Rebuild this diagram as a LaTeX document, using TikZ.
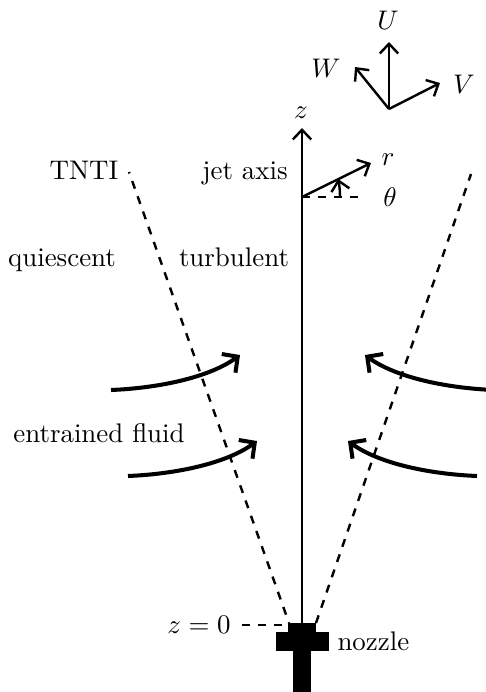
\documentclass[tikz,border=0pt]{standalone}
\usetikzlibrary{arrows.meta}
\begin{document}
\begin{tikzpicture}[x=0.3717pt,y=-0.3717pt,
  >={Straight Barb[length=3.6pt,width=6.8pt]},
  axisline/.style={line width=0.9pt},
  tnti/.style={line width=0.9pt,dash pattern=on 3pt off 3pt},
  flow/.style={line width=1.5pt,-{Straight Barb[length=4.2pt,width=8.6pt]}},
  lbl/.style={inner sep=0pt, anchor=base},
  ]
\useasboundingbox (0,0) rectangle (486,692);
% nozzle
\fill (288,623) rectangle (316,633);
\fill (276,632) rectangle (329,651);
\fill (293,650) rectangle (311,692);
% coordinates
\coordinate (nz) at (302,623);
\coordinate (ztip) at (302,128);
\coordinate (O) at (302,197);
\coordinate (rtip) at (371,163);
\coordinate (thend) at (366,197);
\coordinate (tl) at (129,172);
\coordinate (bl) at (289,623);
\coordinate (tr) at (471,174);
\coordinate (br) at (316,623);
\coordinate (C) at (389,109);
\coordinate (Ut) at (389,42);
\coordinate (Vt) at (440,83);
\coordinate (Wt) at (355,67);
% jet axis
\draw[axisline,->] (nz) -- (ztip);
\node[lbl] (zl) at (301,118) {$z$};
% TNTI
\draw[tnti,dash phase=2.7pt] (bl) -- (tl);
\draw[tnti] (br) -- (tr);
% r, theta
\draw[axisline,->] (O) -- (rtip);
\draw[axisline,dashed] (O) -- (thend);
\node[anchor=center] (rl) at (388,160) {$r$};
\node[anchor=center] (thl) at (390,197) {$\theta$};
\coordinate (a0) at (340,197);
\coordinate (a1) at (338,179);
\draw[axisline,->] (a0) .. controls (340,191) and (339.5,186) .. (a1);
% U V W
\draw[axisline,->] (C) -- (Ut);
\draw[axisline,->] (C) -- (Vt);
\draw[axisline,->] (C) -- (Wt);
\node (Ul) at (388,20) {$U$};
\node (Vl) at (464,84) {$V$};
\node (Wl) at (326,68) {$W$};
% labels
\node[lbl] (tntil) at (84,179) {TNTI};
\node[lbl] (jal) at (245,179) {jet axis};
\node[lbl] (ql) at (62,266) {quiescent};
\node[lbl] (tbl) at (234,266) {turbulent};
\node[lbl] (efl) at (99,442) {entrained fluid};
\node[lbl,anchor=base west] (nzl) at (337,650) {nozzle};
\node[lbl] (z0) at (199,633) {$z=0$};
\coordinate (z0a) at (242,625);
\coordinate (z0b) at (287,625);
\draw[axisline,dashed] (z0a) -- (z0b);
% entrainment arrows
\coordinate (ul0) at (111,390); \coordinate (ul1) at (240,355);
\coordinate (ll0) at (128,476); \coordinate (ll1) at (257,441);
\coordinate (ur0) at (494,390); \coordinate (ur1) at (365,355);
\coordinate (lr0) at (477,476); \coordinate (lr1) at (348,441);
\draw[flow] (ul0) .. controls (160,388) and (210,377) .. (ul1);
\draw[flow] (ll0) .. controls (177,474) and (227,463) .. (ll1);
\draw[flow] (ur0) .. controls (445,388) and (395,377) .. (ur1);
\draw[flow] (lr0) .. controls (428,474) and (378,463) .. (lr1);
\end{tikzpicture}
\end{document}
